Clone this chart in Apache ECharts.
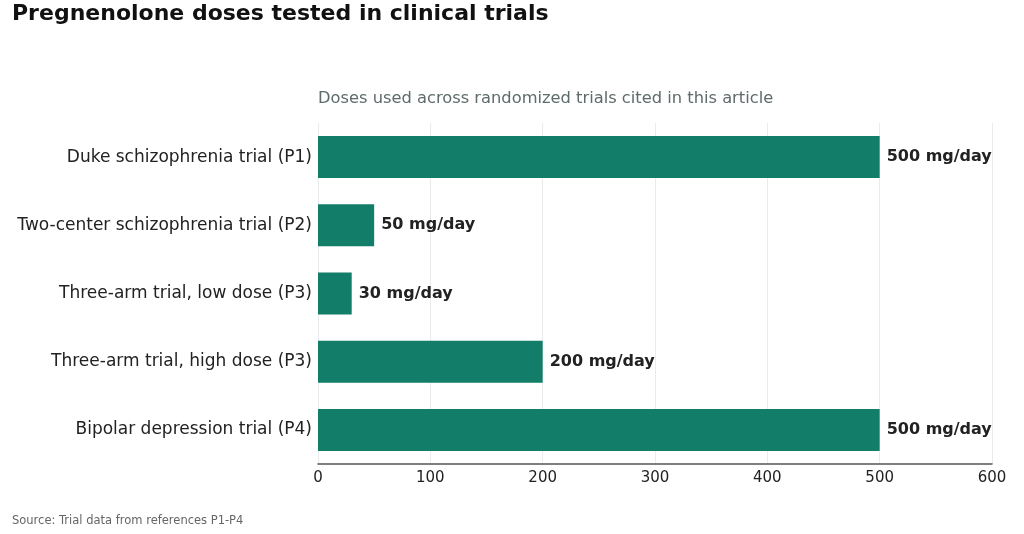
<!DOCTYPE html>
<html>
<head>
<meta charset="utf-8">
<script src="https://cdn.jsdelivr.net/npm/echarts@6/dist/echarts.min.js"></script>
<style>
  html, body { margin: 0; padding: 0; background: #ffffff; }
  #chart { width: 1024px; height: 534px; }
</style>
</head>
<body>
<div id="chart"></div>
<script>
// trials, top to bottom
var trials = [
    'Duke schizophrenia trial (P1)',
    'Two-center schizophrenia trial (P2)',
    'Three-arm trial, low dose (P3)',
    'Three-arm trial, high dose (P3)',
    'Bipolar depression trial (P4)'
];
var doses = [500, 50, 30, 200, 500];
var xTicks = [0, 100, 200, 300, 400, 500, 600];

var font = '"DejaVu Sans", sans-serif';
var chart = echarts.init(document.getElementById('chart'));
var option = {
    backgroundColor: '#ffffff',
    animation: false,
    title: [{
        text: 'Pregnenolone doses tested in clinical trials',
        left: 7,
        top: -2,
        textStyle: { fontFamily: font, fontSize: 22, fontWeight: 'bold', color: '#111111' }
    }, {
        text: 'Doses used across randomized trials cited in this article',
        left: 313,
        top: 86,
        textStyle: { fontFamily: font, fontSize: 16.3, fontWeight: 'normal', color: '#5f6b6b' }
    }, {
        text: 'Source: Trial data from references P1-P4',
        left: 7,
        top: 510,
        textStyle: { fontFamily: font, fontSize: 11.5, fontWeight: 'normal', color: '#666666' }
    }],
    grid: { left: 318, right: 32, top: 123, bottom: 70, containLabel: false },
    xAxis: {
        type: 'value',
        min: xTicks[0],
        max: xTicks[xTicks.length - 1],
        interval: 100,
        axisLine: { show: true, lineStyle: { color: '#555555', width: 1.5 } },
        axisTick: { show: false },
        axisLabel: { fontFamily: font, fontSize: 15, color: '#222222', margin: 7 },
        splitLine: { show: true, lineStyle: { color: '#e8ecec', width: 1 } }
    },
    yAxis: {
        type: 'category',
        inverse: true,
        data: trials,
        axisLine: { show: false },
        axisTick: { show: false },
        axisLabel: { fontFamily: font, fontSize: 17, color: '#222222', margin: 6 }
    },
    series: [{
        type: 'bar',
        data: doses,
        barWidth: 42,
        itemStyle: { color: '#127d68' },
        label: {
            show: true,
            position: 'right',
            distance: 7,
            formatter: function (p) { return p.value + ' mg/day'; },
            fontFamily: font,
            fontSize: 16,
            fontWeight: 'bold',
            color: '#222222'
        }
    }]
};
chart.setOption(option);
</script>
</body>
</html>
